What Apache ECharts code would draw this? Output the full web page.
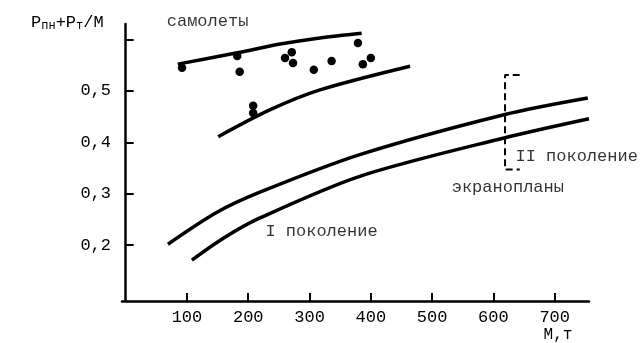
<!DOCTYPE html>
<html>
<head>
<meta charset="utf-8">
<script src="https://cdn.jsdelivr.net/npm/echarts@6/dist/echarts.min.js"></script>
<style>
  html, body { margin: 0; padding: 0; background: #fff; }
  #chart { width: 640px; height: 343px; }
</style>
</head>
<body>
<div id="chart"></div>
<script>
// curves: [M, (Pпн+Pт)/M]
const planeUpper = [[85, 0.552], [182, 0.574], [252, 0.591], [317, 0.603], [385, 0.612]];
const planeLower = [[151, 0.411], [235, 0.463], [317, 0.502], [464, 0.548]];
const ekranGen2 = [[69, 0.202], [149, 0.264], [219, 0.303], [382, 0.376], [619, 0.454], [754, 0.486]];
const ekranGen1 = [[108, 0.171], [160, 0.214], [219, 0.253], [382, 0.334], [619, 0.409], [756, 0.446]];
const planeDots = [
  [92, 0.545], [182, 0.568], [186, 0.537], [208, 0.471], [208, 0.457],
  [260, 0.564], [271, 0.575], [273, 0.554], [307, 0.541], [336, 0.558],
  [379, 0.593], [387, 0.552], [400, 0.564]
];
const bracket = [[643, 0.531], [619, 0.531], [619, 0.347], [643, 0.347]];
const notes = [
  ['самолеты', 67, 0.635],
  ['I поколение', 228, 0.227],
  ['II поколение', 636, 0.372],
  ['экранопланы', 532, 0.312]
];
const xTicks = [100, 200, 300, 400, 500, 600, 700];
const yLabels = [0.2, 0.3, 0.4, 0.5];
const yTicks = [0.2, 0.3, 0.4, 0.5, 0.6];

const font = 'Liberation Mono';
const ink = '#000';

const myChart = echarts.init(document.getElementById('chart'));

const curve = (data) => ({
  type: 'line',
  data: data,
  smooth: 0.3,
  showSymbol: false,
  silent: true,
  lineStyle: { color: ink, width: 3.5 },
});

const option = {
  animation: false,
  backgroundColor: '#fff',
  grid: { left: 122, right: 51, top: 24, bottom: 41 },
  xAxis: {
    type: 'value',
    min: -6,
    max: 756,
    name: 'М,т',
    nameLocation: 'end',
    nameGap: -31,
    nameTextStyle: {
      fontFamily: font, fontSize: 16, color: ink,
      align: 'center', verticalAlign: 'top', padding: [26, 0, 0, 0],
    },
    splitLine: { show: false },
    axisLine: { show: true, lineStyle: { color: ink, width: 2.5 } },
    axisTick: { show: true, inside: true, length: 8, lineStyle: { color: ink, width: 2 }, customValues: xTicks },
    axisLabel: { fontFamily: font, fontSize: 17, color: ink, margin: 8, customValues: xTicks },
  },
  yAxis: {
    type: 'value',
    min: 0.0916,
    max: 0.63,
    name: 'P{s|пн}+P{s|т}/M',
    nameLocation: 'end',
    nameGap: 2,
    nameTextStyle: {
      fontFamily: font, fontSize: 17, color: ink,
      align: 'right', verticalAlign: 'middle', padding: [0, 22, 0, 0],
      rich: { s: { fontFamily: font, fontSize: 12, color: ink, verticalAlign: 'bottom', padding: [8, 0, 0, 0] } },
    },
    splitLine: { show: false },
    axisLine: { show: true, lineStyle: { color: ink, width: 2.5 } },
    axisTick: { show: true, inside: true, length: 8, lineStyle: { color: ink, width: 2 }, customValues: yTicks },
    axisLabel: {
      fontFamily: font, fontSize: 17, color: ink, margin: 11, customValues: yLabels,
      formatter: (v) => v.toFixed(1).replace('.', ','),
    },
  },
  series: [
    curve(planeUpper),
    curve(planeLower),
    curve(ekranGen2),
    curve(ekranGen1),
    {
      type: 'scatter',
      data: planeDots,
      symbolSize: 8.5,
      silent: true,
      itemStyle: { color: ink, opacity: 1 },
    },
    {
      type: 'line',
      data: bracket,
      showSymbol: false,
      silent: true,
      lineStyle: { color: ink, width: 2, type: [7, 4] },
    },
    {
      type: 'scatter',
      clip: false,
      silent: true,
      symbolSize: 0,
      data: notes.map((n) => ({ name: n[0], value: [n[1], n[2]] })),
      label: {
        show: true,
        position: 'right',
        distance: 0,
        formatter: (p) => p.name,
        fontFamily: font,
        fontSize: 17,
        color: ink,
      },
    },
  ],
};

myChart.setOption(option);
</script>
</body>
</html>
